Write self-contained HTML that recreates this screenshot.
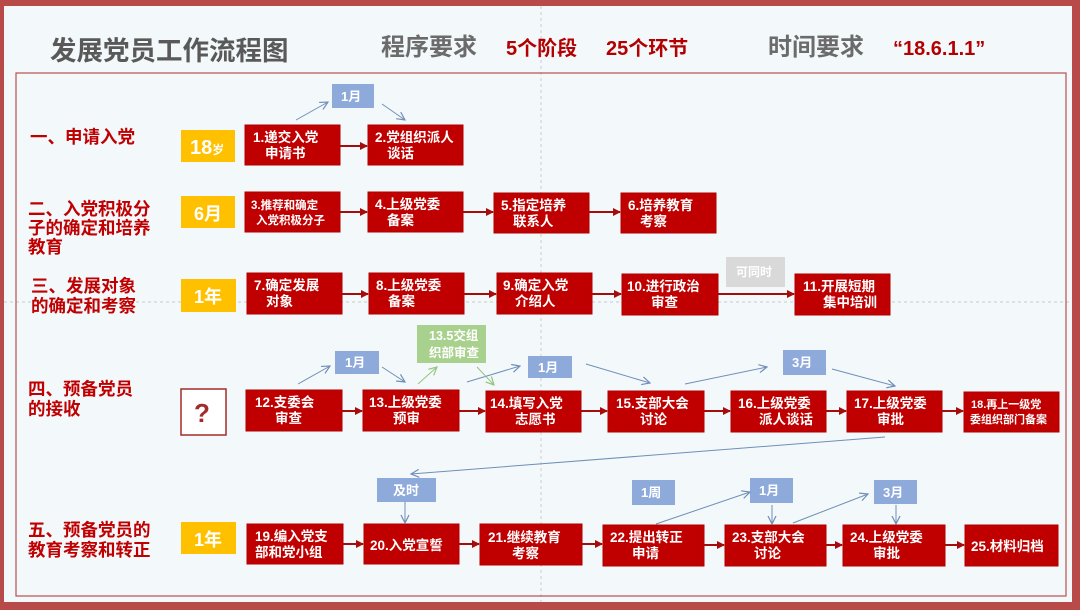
<!DOCTYPE html>
<html><head><meta charset="utf-8"><style>
html,body{margin:0;padding:0;width:1080px;height:610px;overflow:hidden;background:#f3f8fb}
svg{display:block}
text{font-family:"Liberation Sans","Noto Sans CJK SC",sans-serif;font-weight:bold}
.bt{fill:#fff;font-size:13.5px}
.lb{fill:#c00000;font-size:17.5px}
.bl{fill:#fff;font-size:13px}
</style></head><body>
<svg width="1080" height="610" viewBox="0 0 1080 610" xmlns="http://www.w3.org/2000/svg">
<defs>
<marker id="ar" markerWidth="8" markerHeight="8" refX="7" refY="4" orient="auto" markerUnits="userSpaceOnUse"><path d="M0,0 L8,4 L0,8 z" fill="#a50d0d"/></marker>
<marker id="ab" markerWidth="10" markerHeight="10" refX="9" refY="5" orient="auto" markerUnits="userSpaceOnUse"><path d="M1,1 L9,5 L1,9" fill="none" stroke="#6f8fb8" stroke-width="1.2"/></marker>
<marker id="ag" markerWidth="10" markerHeight="10" refX="9" refY="5" orient="auto" markerUnits="userSpaceOnUse"><path d="M1,1 L9,5 L1,9" fill="none" stroke="#93c47d" stroke-width="1.2"/></marker>
</defs>
<rect x="0" y="0" width="1080" height="610" fill="#b94a4a"/>
<rect x="4" y="6" width="1068" height="596" fill="#f3f8fb"/>
<line x1="541" y1="6" x2="541" y2="602" stroke="#bbb" stroke-dasharray="3,3" stroke-width="0.7"/>
<line x1="4" y1="302" x2="1072" y2="302" stroke="#bbb" stroke-dasharray="3,3" stroke-width="0.7"/>
<rect x="16" y="73" width="1050" height="523" fill="none" stroke="#b85050" stroke-width="1.2"/>

<text x="50" y="60" font-size="26.5" fill="#595959">发展党员工作流程图</text>
<text x="381" y="55" font-size="24" fill="#6b6b6b">程序要求</text>
<text x="506" y="55" font-size="20" fill="#b30000">5个阶段</text>
<text x="606" y="55" font-size="20" fill="#b30000">25个环节</text>
<text x="768" y="55" font-size="24" fill="#6b6b6b">时间要求</text>
<text x="893" y="55" font-size="20" fill="#b30000">“18.6.1.1”</text>

<text class="lb" x="30" y="143">一、申请入党</text>
<text class="lb" x="28" y="215">二、入党积极分</text>
<text class="lb" x="28" y="234">子的确定和培养</text>
<text class="lb" x="28" y="253">教育</text>
<text class="lb" x="31" y="292">三、发展对象</text>
<text class="lb" x="31" y="312">的确定和考察</text>
<text class="lb" x="28" y="395">四、预备党员</text>
<text class="lb" x="28" y="415">的接收</text>
<text class="lb" x="28" y="536">五、预备党员的</text>
<text class="lb" x="28" y="556">教育考察和转正</text>

<g fill="#ffc000">
<rect x="181" y="130" width="54" height="32"/><rect x="181" y="196" width="54" height="32"/>
<rect x="181" y="279" width="55" height="33"/><rect x="181" y="522" width="55" height="32"/>
</g>
<text x="190" y="154" font-size="20" fill="#fff">18<tspan font-size="12">岁</tspan></text>
<text x="194" y="220" font-size="18" fill="#fff">6月</text>
<text x="194" y="303" font-size="18" fill="#fff">1年</text>
<text x="194" y="546" font-size="18" fill="#fff">1年</text>
<rect x="181" y="389" width="45" height="46" fill="#fff" stroke="#a52a2a" stroke-width="1.5"/>
<text x="194" y="422" font-size="26" fill="#a52a2a">?</text>

<g fill="#c00000" stroke="#b00000">
<rect x="245" y="125" width="95" height="40"/><rect x="368" y="125" width="95" height="40"/>
<rect x="245" y="192" width="95" height="40"/><rect x="368" y="192" width="95" height="40"/>
<rect x="494" y="193" width="95" height="40"/><rect x="621" y="193" width="95" height="40"/>
<rect x="247" y="273" width="95" height="41"/><rect x="369" y="273" width="95" height="41"/>
<rect x="497" y="273" width="95" height="41"/><rect x="622" y="274" width="96" height="41"/>
<rect x="795" y="274" width="95" height="41"/>
<rect x="246" y="390" width="96" height="41"/><rect x="363" y="390" width="96" height="41"/>
<rect x="486" y="391" width="95" height="41"/><rect x="608" y="391" width="96" height="41"/>
<rect x="731" y="391" width="95" height="41"/><rect x="847" y="391" width="95" height="41"/>
<rect x="964" y="392" width="95" height="40"/>
<rect x="247" y="524" width="96" height="40"/><rect x="364" y="524" width="95" height="40"/>
<rect x="480" y="524" width="102" height="41"/><rect x="603" y="525" width="101" height="41"/>
<rect x="725" y="525" width="101" height="41"/><rect x="843" y="525" width="102" height="41"/>
<rect x="965" y="525" width="93" height="41"/>
</g>
<g class="bt">
<text x="253" y="142">1.递交入党</text><text x="265" y="158">申请书</text>
<text x="375" y="142">2.党组织派人</text><text x="387" y="158">谈话</text>
<text x="251" y="209" font-size="11.5">3.推荐和确定</text><text x="256" y="224" font-size="11.5">入党积极分子</text>
<text x="375" y="209">4.上级党委</text><text x="387" y="225">备案</text>
<text x="501" y="210">5.指定培养</text><text x="513" y="226">联系人</text>
<text x="628" y="210">6.培养教育</text><text x="640" y="226">考察</text>
<text x="254" y="290">7.确定发展</text><text x="266" y="306">对象</text>
<text x="376" y="290">8.上级党委</text><text x="388" y="306">备案</text>
<text x="503" y="290">9.确定入党</text><text x="515" y="306">介绍人</text>
<text x="627" y="291">10.进行政治</text><text x="651" y="307">审查</text>
<text x="803" y="291">11.开展短期</text><text x="823" y="307">集中培训</text>
<text x="255" y="407">12.支委会</text><text x="275" y="423">审查</text>
<text x="369" y="407">13.上级党委</text><text x="393" y="423">预审</text>
<text x="490" y="408">14.填写入党</text><text x="515" y="424">志愿书</text>
<text x="616" y="408">15.支部大会</text><text x="640" y="424">讨论</text>
<text x="738" y="408">16.上级党委</text><text x="759" y="424">派人谈话</text>
<text x="854" y="408">17.上级党委</text><text x="877" y="424">审批</text>
<text x="971" y="408" font-size="11">18.再上一级党</text><text x="970" y="423" font-size="11">委组织部门备案</text>
<text x="255" y="541">19.编入党支</text><text x="255" y="557">部和党小组</text>
<text x="370" y="550">20.入党宣誓</text>
<text x="488" y="542">21.继续教育</text><text x="512" y="558">考察</text>
<text x="610" y="542">22.提出转正</text><text x="632" y="558">申请</text>
<text x="732" y="542">23.支部大会</text><text x="754" y="558">讨论</text>
<text x="850" y="542">24.上级党委</text><text x="873" y="558">审批</text>
<text x="971" y="551">25.材料归档</text>
</g>

<g stroke="#a50d0d" stroke-width="2" marker-end="url(#ar)">
<line x1="340" y1="146" x2="367" y2="146"/>
<line x1="340" y1="212" x2="367" y2="212"/><line x1="463" y1="212" x2="493" y2="212"/><line x1="589" y1="212" x2="620" y2="212"/>
<line x1="342" y1="294" x2="368" y2="294"/><line x1="464" y1="294" x2="496" y2="294"/><line x1="592" y1="294" x2="621" y2="294"/><line x1="718" y1="294" x2="794" y2="294"/>
<line x1="342" y1="411" x2="362" y2="411"/><line x1="459" y1="411" x2="485" y2="411"/><line x1="581" y1="411" x2="607" y2="411"/><line x1="704" y1="411" x2="730" y2="411"/><line x1="826" y1="411" x2="846" y2="411"/><line x1="942" y1="411" x2="963" y2="411"/>
<line x1="343" y1="544" x2="363" y2="544"/><line x1="459" y1="544" x2="479" y2="544"/><line x1="582" y1="544" x2="602" y2="544"/><line x1="704" y1="545" x2="724" y2="545"/><line x1="826" y1="545" x2="842" y2="545"/><line x1="945" y1="545" x2="964" y2="545"/>
</g>

<g fill="#8eaadb">
<rect x="332" y="84" width="42" height="24"/>
<rect x="335" y="351" width="44" height="23"/><rect x="528" y="356" width="44" height="22"/>
<rect x="783" y="350" width="43" height="25"/>
<rect x="377" y="478" width="59" height="24"/>
<rect x="632" y="480" width="43" height="25"/><rect x="750" y="478" width="43" height="25"/><rect x="874" y="480" width="43" height="24"/>
</g>
<g class="bl">
<text x="341" y="101">1月</text><text x="345" y="367">1月</text><text x="538" y="372">1月</text><text x="792" y="367">3月</text>
<text x="393" y="495">及时</text><text x="641" y="497">1周</text><text x="759" y="495">1月</text><text x="883" y="497">3月</text>
</g>
<rect x="726" y="257" width="59" height="30" fill="#d9d9d9"/>
<text x="736" y="276" font-size="12" fill="#fff">可同时</text>
<rect x="417" y="325" width="69" height="38" fill="#a9d18e"/>
<text x="429" y="340" font-size="12.5" fill="#fff">13.5交组</text><text x="429" y="357" font-size="12.5" fill="#fff">织部审查</text>

<g stroke="#6f8fb8" stroke-width="1" fill="none" marker-end="url(#ab)">
<line x1="296" y1="120" x2="328" y2="102"/><line x1="382" y1="104" x2="405" y2="120"/>
<line x1="298" y1="384" x2="330" y2="366"/><line x1="382" y1="367" x2="405" y2="382"/>
<line x1="467" y1="382" x2="520" y2="366"/><line x1="586" y1="364" x2="650" y2="383"/>
<line x1="685" y1="384" x2="767" y2="367"/><line x1="832" y1="369" x2="895" y2="386"/>
<line x1="885" y1="437" x2="411" y2="474"/>
<line x1="405" y1="502" x2="405" y2="523"/>
<line x1="656" y1="524" x2="750" y2="492"/><line x1="772" y1="505" x2="772" y2="524"/>
<line x1="793" y1="523" x2="868" y2="494"/><line x1="896" y1="505" x2="896" y2="524"/>
</g>
<g stroke="#93c47d" stroke-width="1" fill="none" marker-end="url(#ag)">
<line x1="418" y1="384" x2="437" y2="367"/><line x1="477" y1="367" x2="494" y2="385"/>
</g>
</svg>
</body></html>
